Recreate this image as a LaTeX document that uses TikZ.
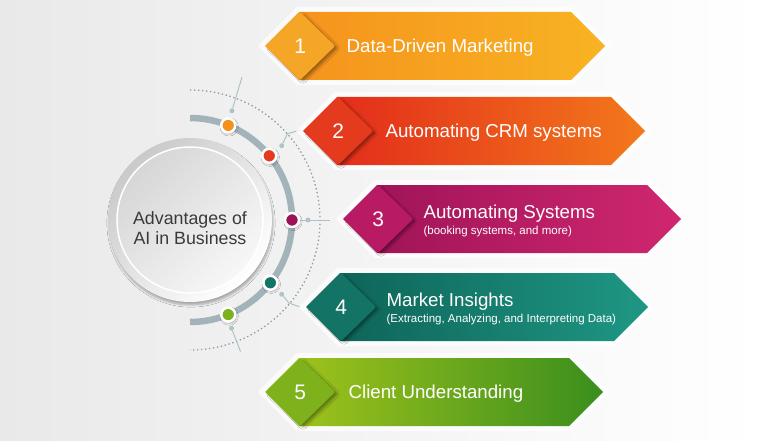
\documentclass[tikz,border=0pt]{standalone}
\usepackage{fontspec}
\setmainfont{Liberation Sans}
\usepackage{xcolor}
\definecolor{bgGray}{HTML}{E9E9E9}
\definecolor{arcGray}{HTML}{A2B4BA}
\definecolor{linkGray}{HTML}{AFC2C8}
\definecolor{dotGray}{HTML}{8E9DA3}
\definecolor{hubText}{HTML}{3A3A3A}
\definecolor{orangeL}{HTML}{F5901C}
\definecolor{orangeR}{HTML}{F8B323}
\definecolor{orangeBadge}{HTML}{F6A627}
\definecolor{redL}{HTML}{E1251B}
\definecolor{redR}{HTML}{F3781B}
\definecolor{redBadge}{HTML}{E43A1D}
\definecolor{plumL}{HTML}{9B1256}
\definecolor{plumR}{HTML}{D0276F}
\definecolor{plumBadge}{HTML}{B81A63}
\definecolor{tealL}{HTML}{0C5F54}
\definecolor{tealR}{HTML}{1F9784}
\definecolor{tealBadge}{HTML}{137466}
\definecolor{greenL}{HTML}{A9C81C}
\definecolor{greenR}{HTML}{3A8E1D}
\definecolor{greenBadge}{HTML}{7DB21C}
\usepackage{tikz}
\usetikzlibrary{
    shapes.symbols,
    shapes.geometric,
    shadows.blur,
    positioning,
    calc
}
% smaller second line on a banner
\newcommand{\subline}[2][16]{{\fontsize{11.5}{#1}\selectfont #2}}
\tikzset{
    % Label text on the banners
    banner text/.style={
        font=\fontsize{18.7}{16}\selectfont,
        text=white,
        align=left,
        inner sep=0pt,
        yshift=-2pt,
    },
    % Banner - hexagon pointed at both ends
    banner/.style={
        signal,
        signal to=west and east,
        signal pointer angle=90,
        minimum height=68pt,
        inner sep=0pt,
        outer sep=0pt,
        preaction={draw=white, line width=10pt, opacity=.7},
    },
    % Number badge - diamond at the left tip
    badge/.style={
        diamond,
        minimum width=70pt,
        minimum height=68pt,
        inner sep=0pt,
        rounded corners=2pt,
        text=white,
        font=\fontsize{21}{21}\selectfont,
        blur shadow={
            shadow xshift=3pt,
            shadow yshift=-2pt,
            shadow blur steps=5,
            shadow opacity=35
        },
    },
    % Coloured dots on the arc
    arc dot/.style={
        circle,
        minimum size=14pt,
        inner sep=0pt,
        draw=white,
        line width=2.5pt,
        blur shadow={
            shadow xshift=1pt,
            shadow yshift=-1.5pt,
            shadow blur steps=4,
            shadow opacity=35
        },
    },
    % Small grey markers and their lines
    marker/.style={
        circle,
        minimum size=5pt,
        inner sep=0pt,
        fill=linkGray,
    },
    link/.style={
        draw=linkGray,
        line width=1pt,
    },
}

\begin{document}
\begin{tikzpicture}[x=1pt, y=1pt]
    \fill[left color=bgGray, right color=white] (0,0) rectangle (760,440);
    \useasboundingbox (0,0) rectangle (760,440);

    \coordinate (c) at (190,220);

    % rings round the hub
    \draw[dotGray, line width=1.3pt, dash pattern=on 1.4pt off 2.6pt]
        (190,350) arc[start angle=90, end angle=-90, radius=130];
    \draw[arcGray, line width=6.5pt]
        (190,322) arc[start angle=90, end angle=-90, radius=102];

    % hub
    \node[circle, minimum size=164pt, top color=gray!42, bottom color=white, shading angle=45,
        blur shadow={shadow xshift=1pt, shadow yshift=-3pt, shadow blur steps=6, shadow opacity=30}] (ring) at (c) {};
    \node[circle, minimum size=146pt, draw=white, line width=1.5pt,
        top color=gray!32, bottom color=gray!6, shading angle=45] (hub) at (c) {};
    \node[font=\fontsize{17.8}{20.5}\selectfont, text=hubText, align=center] (hubtext)
        at ($(c)+(0,-8)$) {Advantages of\\AI in Business};

    % markers and links
    \node[marker] (m1) at ($(c)+(69:117)$) {};
    \node[marker] (m2) at ($(c)+(39:118)$) {};
    \node[marker] (m3) at ($(c)+(0:118)$) {};
    \node[marker] (m4) at ($(c)+(-39:118)$) {};
    \node[marker] (m5) at ($(c)+(-69:116)$) {};
    \coordinate (e1) at ($(c)+(70:152)$);
    \coordinate (k2) at ($(c)+(41.5:130)$);
    \coordinate (e2) at (300,310);
    \coordinate (e3) at (330,220);
    \coordinate (k4) at ($(c)+(-40:129)$);
    \coordinate (e4) at (300,133);
    \coordinate (e5) at ($(c)+(-69:141)$);
    \draw[link] (m1) -- (e1);
    \draw[link] (m2) -- (k2) -- (e2);
    \draw[link] (c) ++(0:102) -- (e3);
    \draw[link] (m4) -- (k4) -- (e4);
    \draw[link] (m5) -- (e5);

    % dots on the arc
    \node[arc dot, fill=orangeL] (d1) at ($(c)+(68:102)$) {};
    \node[arc dot, fill=redBadge] (d2) at ($(c)+(39:102)$) {};
    \node[arc dot, fill=plumL] (d3) at ($(c)+(0:102)$) {};
    \node[arc dot, fill=tealBadge] (d4) at ($(c)+(-38:102)$) {};
    \node[arc dot, fill=greenBadge] (d5) at ($(c)+(-68:102)$) {};

    % banners
    \node[banner, minimum width=340pt, left color=orangeL, right color=orangeR] (b1) at (435,394) {};
    \node[badge, anchor=west, fill=orangeBadge] (n1) at (b1.west) {1};
    \node[banner text, right=11pt of n1.east] (t1) {Data-Driven Marketing};

    \node[banner, minimum width=342pt, left color=redL, right color=redR] (b2) at (474,309) {};
    \node[badge, anchor=west, fill=redBadge] (n2) at (b2.west) {2};
    \node[banner text, right=12pt of n2.east] (t2) {Automating CRM systems};

    \node[banner, minimum width=338pt, left color=plumL, right color=plumR] (b3) at (512,221) {};
    \node[badge, anchor=west, fill=plumBadge] (n3) at (b3.west) {3};
    \node[banner text, right=10pt of n3.east] (t3) {Automating Systems\\\subline{(booking systems, and more)}};

    \node[banner, minimum width=342pt, left color=tealL, right color=tealR] (b4) at (477,133) {};
    \node[badge, anchor=west, fill=tealBadge] (n4) at (b4.west) {4};
    \node[banner text, right=10pt of n4.east] (t4)
        {Market Insights\\\subline[12]{(Extracting, Analyzing, and Interpreting Data)}};

    \node[banner, minimum width=338pt, left color=greenL, right color=greenR] (b5) at (434,48) {};
    \node[badge, anchor=west, fill=greenBadge] (n5) at (b5.west) {5};
    \node[banner text, right=13pt of n5.east] (t5) {Client Understanding};
\end{tikzpicture}
\end{document}
